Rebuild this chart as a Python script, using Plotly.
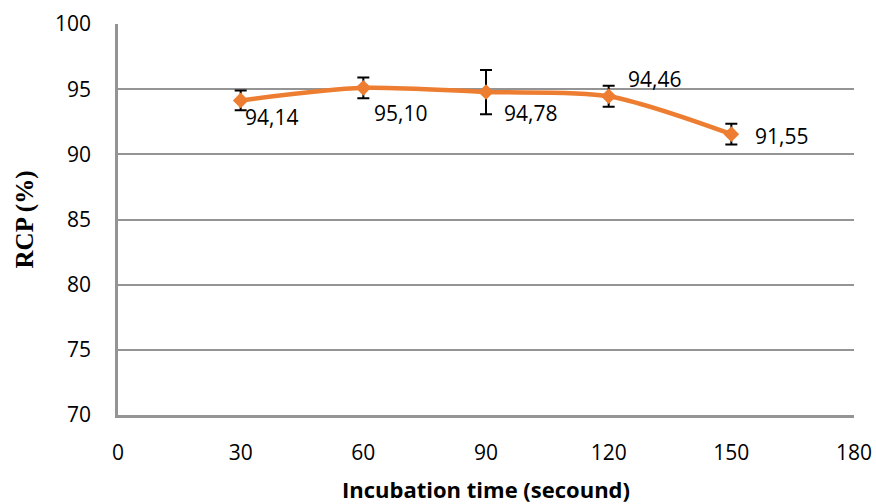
import plotly.graph_objects as go

time_s = [30, 60, 90, 120, 150]
rcp = [94.14, 95.10, 94.78, 94.46, 91.55]
rcp_err = [0.75, 0.8, 1.7, 0.8, 0.8]
labels = ["94,14", "95,10", "94,78", "94,46", "91,55"]
label_dx = [31, 37, 44, 46, 50]
label_dy = [-17, -25, -21, 17, -2]

x_ticks = [0, 30, 60, 90, 120, 150, 180]
y_ticks = [70, 75, 80, 85, 90, 95, 100]

orange = "#ED7D31"
grid = "#949494"
sans = "Open Sans, Liberation Sans, sans-serif"

fig = go.Figure()
fig.add_trace(go.Scatter(
    x=time_s, y=rcp,
    mode="lines+markers",
    line=dict(color=orange, width=4.5, shape="spline", smoothing=0.8),
    marker=dict(symbol="diamond", size=12, color=orange),
    error_y=dict(type="data", array=rcp_err, visible=True, color="#000000", thickness=2, width=6),
    showlegend=False,
))

for xv, yv, txt, dx, dy in zip(time_s, rcp, labels, label_dx, label_dy):
    fig.add_annotation(
        x=xv, y=yv, text=txt, showarrow=False,
        xanchor="center", yanchor="middle", xshift=dx, yshift=dy,
        font=dict(family=sans, size=21, color="#000000"),
    )

fig.update_layout(
    width=876, height=504,
    margin=dict(l=118, r=22, t=24, b=89),
    paper_bgcolor="white", plot_bgcolor="white",
    font=dict(family=sans, size=21, color="#000000"),
)
fig.update_xaxes(
    range=[0, 180], tickvals=x_ticks, ticktext=[str(v) for v in x_ticks],
    showgrid=False, zeroline=False, automargin=False,
    showline=True, linecolor=grid, linewidth=2.5,
    ticks="", ticklabelstandoff=17,
    tickfont=dict(family=sans, size=21),
    title=dict(text="<b>Incubation time (secound)</b>", font=dict(family=sans, size=22), standoff=20),
)
fig.update_yaxes(
    range=[70, 100], tickvals=y_ticks, automargin=False,
    showgrid=True, gridcolor=grid, gridwidth=1.8, zeroline=False,
    showline=True, linecolor=grid, linewidth=2.5,
    ticks="", ticklabelstandoff=20,
    tickfont=dict(family=sans, size=21),
    title=dict(text="<b>RCP (%)</b>", font=dict(family="Liberation Serif, serif", size=25), standoff=15),
)

fig.write_html("out.html", config={"displayModeBar": False},
               post_script="document.body.style.margin='0px';")
